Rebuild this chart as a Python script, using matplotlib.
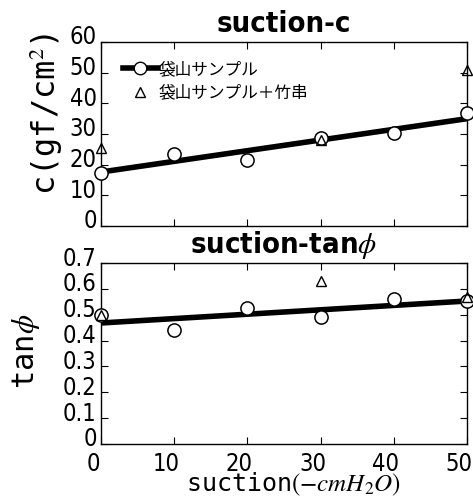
import matplotlib
matplotlib.use("Agg")
import matplotlib.pyplot as plt
import matplotlib.transforms as mtransforms

# =========================
# Data
# =========================
suction = [0, 10, 20, 30, 40, 50]

c_sample = [17.4, 23.5, 21.5, 28.8, 30.2, 36.9]
c_bamboo_x = [0, 30, 50]
c_bamboo = [25.3, 28.0, 50.9]
c_fit_x = [0, 50]
c_fit = [17.6, 35.0]

tan_sample = [0.498, 0.44, 0.527, 0.492, 0.560, 0.554]
tan_bamboo_x = [0, 30, 50]
tan_bamboo = [0.50, 0.631, 0.569]
tan_fit_x = [0, 50]
tan_fit = [0.468, 0.553]

label_sample = "袋山サンプル"
label_bamboo = "袋山サンプル＋竹串"

# =========================
# Style
# =========================
plt.rcParams["font.family"] = ["DejaVu Sans", "Noto Sans CJK JP"]
plt.rcParams["font.stretch"] = "condensed"
plt.rcParams["mathtext.fontset"] = "stix"

fig = plt.figure(figsize=(4.73, 5.01), dpi=100)
ax1 = fig.add_axes([101 / 473, 1 - 226 / 501, 366 / 473, 184 / 501])
ax2 = fig.add_axes([101 / 473, 1 - 444 / 501, 366 / 473, 181 / 501])

for ax in (ax1, ax2):
    ax.set_xlim(0, 50)
    ax.set_xticks([0, 10, 20, 30, 40, 50])
    ax.tick_params(direction="in", top=True, right=True, length=5, labelsize=17, pad=3)
    for s in ax.spines.values():
        s.set_linewidth(1.0)
ax2.tick_params(axis="x", pad=6)

# top: suction-c
ax1.plot(c_fit_x, c_fit, color="black", lw=4, solid_capstyle="butt", zorder=2)
ax1.plot(suction, c_sample, "o", ms=9.5, mfc="white", mec="black", mew=1.1,
         clip_on=False, zorder=3)
ax1.plot(c_bamboo_x, c_bamboo, "^", ms=7, mfc="none", mec="black", mew=1.0,
         clip_on=False, zorder=4)
ax1.plot([], [], "-o", color="black", lw=4, ms=9, mfc="white", mec="black",
         label=label_sample)
ax1.plot([], [], "^", ms=7, mfc="none", mec="black", label=label_bamboo)
ax1.set_ylim(0, 60)
ax1.set_yticks(range(0, 61, 10))
ax1.set_xticklabels([])
ax1.set_ylabel("c(gf/cm$^2$)", fontsize=23, family="DejaVu Sans Mono")
ax1.yaxis.set_label_coords(-0.097, 0.609)
ax1.set_title("suction-c", fontsize=21, pad=7, fontweight="bold")
leg = ax1.legend(loc="upper left", bbox_to_anchor=(0.06, 0.898), frameon=False,
                 prop={"family": ["Noto Sans CJK JP"], "size": 12},
                 handlelength=2.1, handletextpad=0.05, borderaxespad=0,
                 borderpad=0, labelspacing=0.4)

# bottom: suction-tan(phi)
ax2.plot(tan_fit_x, tan_fit, color="black", lw=4, solid_capstyle="butt", zorder=2)
ax2.plot(suction, tan_sample, "o", ms=9.5, mfc="white", mec="black", mew=1.1,
         clip_on=False, zorder=3)
ax2.plot(tan_bamboo_x, tan_bamboo, "^", ms=7, mfc="none", mec="black", mew=1.0,
         clip_on=False, zorder=4)
ax2.set_ylim(0, 0.7)
ax2.set_yticks([0, 0.1, 0.2, 0.3, 0.4, 0.5, 0.6, 0.7])
ax2.set_yticklabels(["0", "0.1", "0.2", "0.3", "0.4", "0.5", "0.6", "0.7"])
ax2.set_ylabel(r"tan$\phi$", fontsize=22, family="DejaVu Sans Mono")
ax2.yaxis.set_label_coords(-0.161, 0.514)
ax2.set_title(r"suction-tan$\phi$", fontsize=21, pad=7, fontweight="bold")
ax2.set_xlabel(r"suction$(-cmH_2O)$", fontsize=18, family="DejaVu Sans Mono")
ax2.xaxis.set_label_coords(0.527, -0.150)

# tick labels sit a little off their ticks in the reference
x_shift = mtransforms.ScaledTranslation(-8 / 100, 0, fig.dpi_scale_trans)
for lbl in ax2.get_xticklabels():
    lbl.set_transform(lbl.get_transform() + x_shift)
y_shift = mtransforms.ScaledTranslation(0, 7 / 100, fig.dpi_scale_trans)
for ax in (ax1, ax2):
    for lbl in ax.get_yticklabels():
        lbl.set_transform(lbl.get_transform() + y_shift)

fig.savefig("out.png", dpi=100)
